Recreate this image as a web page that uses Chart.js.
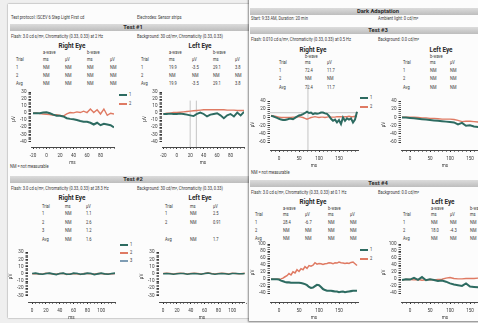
<!DOCTYPE html>
<html lang="en">
<head>
<meta charset="UTF-8">
<title>ERG report</title>
<script src="https://cdn.jsdelivr.net/npm/chart.js"></script>
<style>
  html, body { margin: 0; padding: 0; }
  body {
    width: 478px; height: 323px; overflow: hidden; position: relative;
    background: #efefef; color: #383838;
    font-family: Roboto, "DejaVu Sans", sans-serif;
    --kx: 0.42; --ky: 0.46;
  }
  .page { position: absolute; background: #fcfcfc; overflow: hidden; }
  #pageL { left: 8px; top: 4px; width: 241px; height: 314px; box-shadow: 0 0 1.5px rgba(0,0,0,0.5); }
  #pageR { left: 249px; top: -2px; width: 240px; height: 323px; box-shadow: -1px 1px 1.5px rgba(0,0,0,0.45); }
  .inner { position: absolute; }
  .t {
    position: absolute; font-size: 10px; line-height: 10px; white-space: nowrap;
    transform-origin: 0 50%; transform: translateY(-50%) scale(var(--kx), var(--ky));
  }
  .eye {
    position: absolute; white-space: nowrap; transform: translate(-50%,-50%);
    font-weight: bold; font-size: 6.4px; line-height: 7px; color: #2a2a2a;
  }
  .bar {
    position: absolute; height: 7px; background: linear-gradient(#dcdcdc, #bdbdbd);
    font-weight: bold; font-size: 5.8px; line-height: 7px; color: #2a2a2a; text-align: center;
  }
  .sw { position: absolute; width: 8px; }
  canvas { position: absolute; }
</style>
</head>
<body>
<div class="page" id="pageL"><div class="inner" id="L" style="left:-8px;top:-4px"></div></div>
<div class="page" id="pageR"><div class="inner" id="R" style="left:-249px;top:2px"></div></div>

<script>
// ---- Test #1 (flash 3.0, 2 Hz) ----
const t1Ms = [-20,-15,-10,-5,0,5,10,15,20,25,30,35,40,45,50,55,60,65,70,75,80,85,90,95,100];
const t1Right1 = [0,0,0,1,1.5,0,-2,-3.5,-3.5,-4.5,-7,-8,-8.5,-9.5,-11,-12,-12,-13.5,-16,-13.5,-17,-15,-16,-17,-20];
const t1Right2 = [0,0.5,-0.5,-1,-1.5,-2,-3,-2,-3,-4,-1,1,0.5,2,1,3,1,6,1,5,-1,6,-3,0,-1];
const t1Left1 = [-1,-1,-0.5,-1,-1,-0.5,-1,-2,-3,-4,-1,1,-1,-4.5,-2,-1,0,-3,-7,-3,-1,-4.5,1,-3,2];
const t1Left2 = [-1,0,0,1,1,1.5,2,2.5,3,3.5,4,4.5,5,5,5,5,5,5,5,4.5,4.5,4.5,4,4,4];
const t1XLabels = [-20,0,20,40,60,80];
const t1YLabels = [-40,-30,-20,-10,0,10,20,30];

// ---- Test #2 (flicker 28.3 Hz) ----
const t2Ms = [0,5,10,15,20,25,30,35,40,45,50,55,60,65,70,75,80,85,90,95,100,105,110,115,120];
const t2Right1 = [0.5,1,0,-0.5,0.5,1,0,-1,0.5,1,-0.5,-0.5,1,0.5,-0.5,0,1,0.5,-1,0,1,0,-0.5,0.5,1];
const t2Right2 = [0,0.5,-0.5,0,1,0.5,-0.5,-0.5,0.5,0.5,-1,0,0.5,0,-1,0.5,0.5,0,-0.5,0.5,0.5,-0.5,0,0,0.5];
const t2Right3 = [0.5,0.5,0,-0.5,0,1,0.5,-0.5,0,1,0,-0.5,0.5,1,0,-0.5,0.5,1,0,-0.5,0.5,0.5,0,-0.5,0];
const t2Left1 = [0,0.5,0,-0.5,0,0.5,0.5,-0.5,0,0.5,0,-0.5,0.5,1,0,-0.5,0,0.5,0,-0.5,0.5,0.5,0,0,0.5];
const t2Left2 = [0.5,1,0.5,0,0.5,1,0.5,0,0.5,1,0.5,0,0.5,1.5,0.5,0,0.5,1,0.5,0,1,0.5,0,0.5,1];
const t2XLabels = [0,20,40,60,80,100];
const t2YLabels = [-30,-20,-10,0,10,20,30];

// ---- Test #3 (dark adapted 0.010) ----
const t3Ms = [-20,-15,-10,-5,0,5,10,15,20,25,30,35,40,45,50,55,60,65,70,75,80,85,90,95,100,105,110,115,120,125,130,135,140,145,150,155,160,165,170,175,180,185,190,195];
const t3Right1 = [4,3,1,-1,-3,-5,-6,-6,-5,-3,-3,-4,-1,2,5,6,8,11,14,11,12,8,10,9,10,12,12,10,9,4,-3,-8,-5,-12,-6,-16,0,-8,-2,-5,-2,-12,-5,14];
const t3Right2 = [5,4,3,2,1,0,0,0,0,0,0,1,1,2,2,1,0,-2,-4,-2,0,1,2,1,0,1,1,0,1,2,1,1,1,2,2,2,1,2,2,3,2,2,3,2];
const t3LeftMs = [-20,-10,0,10,20,30,40,50,60,70,80,90,100,110,120,130,140,150,160,170,180,190];
const t3Left1 = [0,0,-1,-2,-3,-4,-5,-6,-7,-8,-9,-10,-11,-12,-17,-13,-20,-19,-22,-23,-23,-24];
const t3Left2 = [1,1,1,1,0,-1,-1,-2,-2,-3,-4,-4,-4,-5,-7,-10,-9,-9,-10,-11,-11,-12];
const t3XLabels = [0,50,100,150];
const t3YLabels = [-60,-40,-20,0,20,40];

// ---- Test #4 (dark adapted 3.0) ----
const t4Ms = t3Ms;
const t4Right1 = [0,0,0,0,-1,-4,-6,-8,-9,-9,-10,-10,-10,-10,-10,-11,-12,-14,-17,-22,-25,-24,-20,-16,-17,-22,-28,-31,-33,-33,-33,-34,-35,-35,-37,-36,-35,-37,-36,-35,-34,-33,-33,-33];
const t4Right2 = [0,0,0,0,0,1,3,7,10,16,12,21,18,27,22,30,27,36,31,39,37,40,47,43,45,44,42,44,45,47,46,44,47,46,49,47,46,45,46,45,48,49,44,39];
const t4LeftMs = t3LeftMs;
const t4Left1 = [-2,0,-1,4,-2,6,-3,0,-2,-5,-4,-7,-12,-15,-17,-19,-12,-21,-22,-23,-21,-22];
const t4Left2 = [-2,-1,-1,-2,-1,-3,-2,-1,-2,-1,0,3,5,2,1,1,2,2,2,3,3,3];
const t4YLabels = [-40,-20,0,20,40,60,80,100];

// ---- tables ----
const t1RightRows = [['1','NM','NM','NM','NM'],['2','NM','NM','NM','NM'],['Avg','NM','NM','NM','NM']];
const t1LeftRows = [['1','19.9','-3.5','29.1','3.8'],['2','NM','NM','NM','NM'],['Avg','19.9','-3.5','29.1','3.8']];
const t2RightRows = [['1','NM','1.1'],['2','NM','2.6'],['3','NM','1.2'],['Avg','NM','1.6']];
const t2LeftRows = [['1','NM','2.5'],['2','NM','0.91'],['Avg','NM','1.7']];
const t3RightRows = [['1','72.4','11.7'],['2','NM','NM'],['Avg','72.4','11.7']];
const t3LeftRows = [['1','NM','NM'],['2','NM','NM'],['Avg','NM','NM']];
const t4RightRows = [['1','28.4','-6.7','NM','NM'],['2','NM','NM','NM','NM'],['Avg','NM','NM','NM','NM']];
const t4LeftRows = [['1','NM','NM','NM','NM'],['2','18.0','-4.3','NM','NM'],['Avg','NM','NM','NM','NM']];

const TEAL = '#2d6b61', ORANGE = '#df7a63', SLATE = '#7f9db4', MARK = '#b8b8b8';
Chart.defaults.font.family = 'Roboto, "DejaVu Sans", sans-serif';

const L = document.getElementById('L');
const R = document.getElementById('R');

function put(parent, x, y, s) {
  const d = document.createElement('div');
  d.className = 't';
  d.textContent = s;
  d.style.left = x + 'px';
  d.style.top = y + 'px';
  parent.appendChild(d);
  return d;
}
function eye(parent, x, y, s) {
  const d = document.createElement('div');
  d.className = 'eye';
  d.textContent = s;
  d.style.left = x + 'px';
  d.style.top = y + 'px';
  parent.appendChild(d);
}
function bar(parent, x, y, w, s) {
  const d = document.createElement('div');
  d.className = 'bar';
  d.style.left = x + 'px'; d.style.top = y + 'px'; d.style.width = w + 'px';
  d.textContent = s;
  parent.appendChild(d);
}
function table(parent, cols, head1, y1, head2, y2, rows, rowY) {
  head1.forEach((s, i) => { if (s) put(parent, cols[i], y1, s); });
  head2.forEach((s, i) => put(parent, cols[i], y2, s));
  rows.forEach((r, j) => r.forEach((s, i) => put(parent, cols[i], rowY[j], s)));
}
function legend(parent, x, y, color, lw, s) {
  const d = document.createElement('div');
  d.className = 'sw';
  d.style.left = x + 'px'; d.style.top = (y - lw / 2) + 'px';
  d.style.height = lw + 'px'; d.style.background = color;
  parent.appendChild(d);
  put(parent, x + 10, y, s);
}

// left page
put(L, 11, 18, 'Test protocol: ISCEV 6 Step Light First cd');
put(L, 137, 18, 'Electrodes: Sensor strips');
bar(L, 10, 24, 246, 'Test #1');
const flash1 = put(L, 11, 37, 'Flash: 3.0 cd·s/m², Chromaticity (0.33, 0.33) at 2 Hz');
put(L, 137, 37, 'Background: 30 cd/m², Chromaticity (0.33, 0.33)');
eye(L, 72, 46, 'Right Eye');
eye(L, 200, 46, 'Left Eye');
table(L, [16,43,65,87,110], ['','a-wave','','b-wave',''], 53, ['Trial','ms','µV','ms','µV'], 59.5, t1RightRows, [68,76,84]);
table(L, [141,169,192,213,235], ['','a-wave','','b-wave',''], 53, ['Trial','ms','µV','ms','µV'], 59.5, t1LeftRows, [68,76,84]);
legend(L, 119, 95, TEAL, 2, '1');
legend(L, 119, 104, ORANGE, 1.3, '2');
put(L, 10, 167, 'NM = not measurable');
bar(L, 10, 176, 246, 'Test #2');
put(L, 11, 189, 'Flash: 3.0 cd·s/m², Chromaticity (0.33, 0.33) at 28.3 Hz');
put(L, 137, 189, 'Background: 30 cd/m², Chromaticity (0.33, 0.33)');
eye(L, 72, 198, 'Right Eye');
eye(L, 200, 198, 'Left Eye');
table(L, [42,65,86], [], 0, ['Trial','ms','µV'], 207, t2RightRows, [214,223,231,240]);
table(L, [165,190,213], [], 0, ['Trial','ms','µV'], 207, t2LeftRows, [214,223,240]);
legend(L, 120, 245, TEAL, 2, '1');
legend(L, 120, 253, ORANGE, 1.8, '2');
legend(L, 120, 261, SLATE, 1.1, '3');

// right page
bar(R, 250, 8, 256, 'Dark Adaptation');
put(R, 251, 19, 'Start: 9:33 AM, Duration: 20 min');
put(R, 378, 19, 'Ambient light: 0 cd/m²');
bar(R, 250, 27, 256, 'Test #3');
put(R, 251, 40, 'Flash: 0.010 cd·s/m², Chromaticity (0.33, 0.33) at 0.5 Hz');
put(R, 378, 40, 'Background: 0.0 cd/m²');
eye(R, 313, 50, 'Right Eye');
eye(R, 441, 50, 'Left Eye');
table(R, [279,305,327], ['','b-wave',''], 57, ['Trial','ms','µV'], 62.5, t3RightRows, [71,79,88]);
table(R, [403,430,450], ['','b-wave',''], 57, ['Trial','ms','µV'], 62.5, t3LeftRows, [71,79,88]);
legend(R, 360, 98, TEAL, 2, '1');
legend(R, 360, 107, ORANGE, 1.3, '2');
put(R, 251, 173, 'NM = not measurable');
bar(R, 250, 180, 256, 'Test #4');
put(R, 251, 193, 'Flash: 3.0 cd·s/m², Chromaticity (0.33, 0.33) at 0.1 Hz');
put(R, 378, 193, 'Background: 0.0 cd/m²');
eye(R, 313, 202, 'Right Eye');
eye(R, 443, 202, 'Left Eye');
table(R, [255,283,305,328,350], ['','a-wave','','b-wave',''], 209, ['Trial','ms','µV','ms','µV'], 215, t4RightRows, [223,231,239]);
table(R, [403,431,450,470,492], ['','a-wave','','b-wave',''], 209, ['Trial','ms','µV','ms','µV'], 215, t4LeftRows, [223,231,239]);
legend(R, 360, 250, TEAL, 2, '1');
legend(R, 360, 259, ORANGE, 1.3, '2');

// scale the small print so the flash line spans ~92px as in the scan
const kx = 92 / flash1.offsetWidth;
document.body.style.setProperty('--kx', kx.toFixed(4));
document.body.style.setProperty('--ky', (kx * 1.12).toFixed(4));

// charts
function steps(a, b, s) { const out = []; for (let v = a; v <= b + 1e-9; v += s) out.push(v); return out; }
function pts(t, v) { return t.map((x, i) => ({ x: x, y: v[i] })); }
function trace(t, v, color, w) {
  return { data: pts(t, v), borderColor: color, borderWidth: w, pointRadius: 0, tension: 0, fill: false };
}
function mark(data, clip) {
  return { data: data, borderColor: MARK, borderWidth: 0.8, pointRadius: 0, fill: false, clip: clip ? undefined : false };
}

function ergChart(box, xr, yr, xTicks, xLabels, yTicks, yLabels, datasets) {
  const c = document.createElement('canvas');
  const yw = box.L - box.left;
  c.width = box.R - box.left + 2;
  c.height = box.B - box.top + 21;
  c.style.left = box.left + 'px';
  c.style.top = box.top + 'px';
  document.body.appendChild(c);
  const axisFont = { size: 4.6 };
  new Chart(c, {
    type: 'line',
    data: { datasets: datasets },
    options: {
      responsive: false, animation: false, devicePixelRatio: 1,
      layout: { padding: { top: box.T - box.top, right: 2, left: 0, bottom: 0 } },
      plugins: { legend: { display: false }, tooltip: { enabled: false } },
      scales: {
        x: {
          type: 'linear', min: xr[0], max: xr[1],
          afterBuildTicks: s => { s.ticks = xTicks.map(v => ({ value: v })); },
          afterFit: s => { s.height = 21; },
          ticks: { autoSkip: false, maxRotation: 0, font: axisFont, color: '#3a3a3a', padding: 4,
                   callback: v => xLabels.includes(v) ? String(v) : '' },
          grid: { drawOnChartArea: false, tickLength: 2, tickColor: '#333',
                  tickWidth: ctx => (ctx.tick && xLabels.includes(ctx.tick.value)) ? 1 : 0.6 },
          border: { display: true, color: '#333', width: 0.9 },
          title: { display: true, text: 'ms', font: axisFont, color: '#3a3a3a', padding: { top: 0, bottom: 2 } }
        },
        y: {
          type: 'linear', min: yr[0], max: yr[1],
          afterBuildTicks: s => { s.ticks = yTicks.map(v => ({ value: v })); },
          afterFit: s => { s.width = yw; },
          ticks: { autoSkip: false, font: axisFont, color: '#3a3a3a', padding: 2,
                   callback: v => yLabels.includes(v) ? String(v) : '' },
          grid: { drawOnChartArea: false, tickLength: 2.5, tickColor: '#333',
                  tickWidth: ctx => (ctx.tick && yLabels.includes(ctx.tick.value)) ? 1 : 0.7 },
          border: { display: false },
          title: { display: true, text: 'µV', font: axisFont, color: '#3a3a3a', padding: { top: 3, bottom: 0 } }
        }
      }
    }
  });
}

const t1a = parseFloat(t1LeftRows[2][1]), t1b = parseFloat(t1LeftRows[2][3]);
const t3bMs = parseFloat(t3RightRows[2][1]), t3bUv = parseFloat(t3RightRows[2][2]);

ergChart({ left: 8, top: 86, L: 31, R: 116, T: 88.5, B: 147 }, [-23, 100], [-48, 32],
  steps(-20, 100, 5), t1XLabels, steps(-40, 30, 2), t1YLabels,
  [trace(t1Ms, t1Right1, TEAL, 2), trace(t1Ms, t1Right2, ORANGE, 1.4)]);
ergChart({ left: 139, top: 86, L: 162, R: 246, T: 88.5, B: 147 }, [-22, 100], [-48, 32],
  steps(-20, 100, 5), t1XLabels, steps(-40, 30, 2), t1YLabels,
  [trace(t1Ms, t1Left1, TEAL, 1.9), trace(t1Ms, t1Left2, ORANGE, 1.4),
   mark([{ x: t1a, y: -48 }, { x: t1a, y: 18 }], true), mark([{ x: t1b, y: -48 }, { x: t1b, y: 18 }], true)]);

ergChart({ left: 5, top: 246, L: 28, R: 117, T: 248.5, B: 302 }, [-6, 120], [-39, 32],
  steps(0, 120, 5), t2XLabels, steps(-30, 30, 2), t2YLabels,
  [trace(t2Ms, t2Right1, TEAL, 1.6), trace(t2Ms, t2Right2, ORANGE, 1.3), trace(t2Ms, t2Right3, SLATE, 1)]);
ergChart({ left: 136, top: 246, L: 159, R: 248, T: 248.5, B: 302 }, [-6, 118], [-39, 32],
  steps(0, 120, 5), t2XLabels, steps(-30, 30, 2), t2YLabels,
  [trace(t2Ms, t2Left1, TEAL, 1.5), trace(t2Ms, t2Left2, ORANGE, 1.4)]);

ergChart({ left: 247, top: 84, L: 270, R: 358, T: 99, B: 150 }, [-22.5, 197.5], [-79, 45],
  steps(-20, 190, 10), t3XLabels, steps(-60, 40, 5), t3YLabels,
  [trace(t3Ms, t3Right1, TEAL, 2), trace(t3Ms, t3Right2, ORANGE, 1.4),
   mark([{ x: t3bMs, y: -79 }, { x: t3bMs, y: 80 }], false),
   mark([{ x: -22.5, y: t3bUv }, { x: 197.5, y: t3bUv }], true)]);
ergChart({ left: 378, top: 84, L: 401, R: 489, T: 99, B: 150 }, [-22.5, 197.5], [-79, 45],
  steps(-20, 190, 10), t3XLabels, steps(-60, 40, 5), t3YLabels,
  [trace(t3LeftMs, t3Left1, TEAL, 2), trace(t3LeftMs, t3Left2, ORANGE, 1.4)]);

ergChart({ left: 247, top: 238, L: 270, R: 358, T: 241.6, B: 302 }, [-22.5, 197.5], [-65, 104],
  steps(-20, 190, 10), t3XLabels, steps(-40, 100, 5), t4YLabels,
  [trace(t4Ms, t4Right1, TEAL, 2.1), trace(t4Ms, t4Right2, ORANGE, 1.5)]);
ergChart({ left: 378, top: 238, L: 401, R: 489, T: 241.6, B: 302 }, [-22.5, 197.5], [-65, 104],
  steps(-20, 190, 10), t3XLabels, steps(-40, 100, 5), t4YLabels,
  [trace(t4LeftMs, t4Left1, TEAL, 2), trace(t4LeftMs, t4Left2, ORANGE, 1.4)]);
</script>
</body>
</html>
